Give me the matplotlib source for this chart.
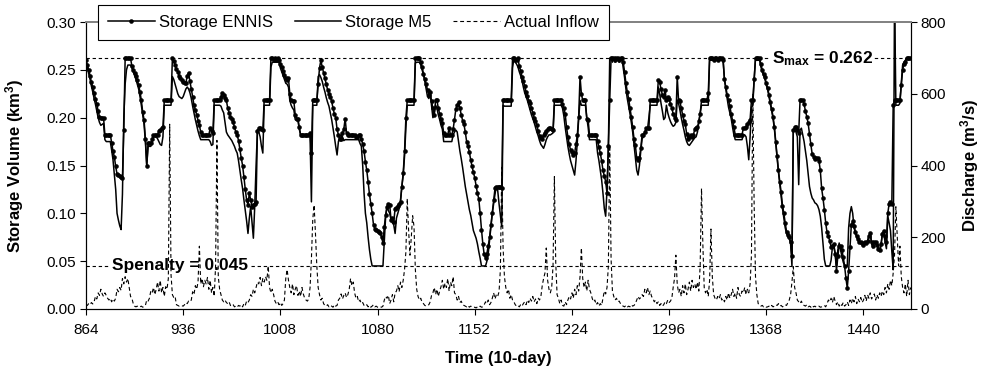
import numpy as np
import matplotlib
matplotlib.use('Agg')
import matplotlib.pyplot as plt
from matplotlib.lines import Line2D

plt.rcParams['font.family'] = ['Liberation Sans', 'DejaVu Sans']
plt.rcParams['mathtext.fontset'] = 'custom'
plt.rcParams['mathtext.rm'] = 'Liberation Sans'
plt.rcParams['mathtext.bf'] = 'Liberation Sans:bold'
plt.rcParams['mathtext.it'] = 'Liberation Sans:italic'

start_time = 864

storage_ennis = [
    .260, .255, .250, .244, .237, .232, .226, .220, .214, .207, .201, .200,  # 864
    .200, .200, .182, .182, .182, .182, .182, .174, .165, .159, .149, .141,  # 876
    .140, .139, .138, .137, .187, .262, .262, .262, .262, .262, .254, .250,  # 888
    .247, .244, .239, .234, .227, .218, .206, .198, .178, .150, .173, .173,  # 900
    .173, .178, .182, .182, .182, .182, .186, .187, .189, .190, .218, .218,  # 912
    .218, .218, .218, .218, .262, .259, .255, .251, .248, .244, .241, .239,  # 924
    .237, .236, .236, .244, .247, .238, .230, .222, .213, .208, .203, .197,  # 936
    .192, .185, .182, .182, .182, .182, .182, .182, .189, .186, .184, .218,  # 948
    .218, .218, .218, .218, .222, .226, .224, .221, .218, .210, .205, .201,  # 960
    .199, .195, .190, .185, .182, .176, .167, .158, .150, .138, .125, .114,  # 972
    .109, .121, .114, .107, .109, .110, .112, .186, .189, .189, .188, .187,  # 984
    .218, .218, .218, .218, .218, .262, .262, .260, .262, .260, .262, .260,  # 996
    .256, .253, .249, .245, .241, .239, .241, .225, .218, .217, .217, .203,  # 1008
    .199, .199, .190, .182, .182, .182, .182, .182, .182, .182, .184, .163,  # 1020
    .218, .218, .218, .218, .235, .252, .260, .253, .247, .241, .235, .229,  # 1032
    .225, .222, .217, .210, .204, .200, .188, .182, .178, .178, .184, .188,  # 1044
    .199, .184, .182, .182, .182, .182, .182, .182, .180, .180, .182, .182,  # 1056
    .178, .172, .165, .154, .145, .133, .120, .110, .100, .088, .084, .083,  # 1068
    .082, .081, .079, .075, .069, .086, .098, .107, .110, .109, .093, .095,  # 1080
    .091, .105, .106, .108, .110, .112, .128, .142, .165, .200, .218, .218,  # 1092
    .218, .218, .218, .218, .262, .262, .262, .262, .258, .253, .246, .240,  # 1104
    .235, .229, .224, .227, .217, .210, .203, .218, .218, .210, .204, .199,  # 1116
    .194, .184, .182, .182, .182, .189, .182, .182, .188, .198, .209, .213,  # 1128
    .216, .210, .203, .197, .193, .185, .175, .170, .164, .156, .149, .143,  # 1140
    .137, .129, .121, .115, .100, .083, .068, .057, .053, .058, .066, .075,  # 1152
    .088, .100, .114, .126, .128, .128, .128, .128, .126, .218, .218, .218,  # 1164
    .218, .218, .218, .218, .262, .262, .260, .260, .262, .254, .249, .243,  # 1176
    .238, .233, .227, .223, .217, .215, .210, .205, .200, .197, .192, .186,  # 1188
    .181, .179, .178, .182, .184, .186, .188, .189, .189, .188, .187, .218,  # 1200
    .218, .218, .218, .218, .218, .214, .210, .204, .190, .180, .172, .166,  # 1212
    .164, .161, .163, .172, .182, .201, .243, .225, .218, .218, .218, .199,  # 1224
    .198, .182, .182, .182, .182, .182, .182, .176, .169, .163, .155, .145,  # 1236
    .139, .133, .121, .170, .218, .262, .262, .262, .260, .262, .262, .260,  # 1248
    .262, .262, .258, .248, .236, .227, .220, .210, .201, .190, .178, .171,  # 1260
    .158, .156, .158, .168, .182, .182, .185, .189, .189, .189, .218, .218,  # 1272
    .218, .218, .218, .218, .239, .237, .230, .224, .222, .229, .218, .222,  # 1284
    .220, .214, .210, .204, .200, .198, .243, .218, .217, .210, .203, .197,  # 1296
    .193, .183, .178, .180, .182, .180, .182, .188, .189, .190, .196, .204,  # 1308
    .218, .218, .218, .218, .218, .226, .262, .262, .262, .260, .262, .262,  # 1320
    .260, .262, .262, .262, .260, .240, .232, .224, .218, .212, .204, .197,  # 1332
    .190, .182, .182, .182, .182, .182, .182, .189, .189, .190, .193, .195,  # 1344
    .198, .218, .218, .240, .262, .262, .262, .262, .256, .250, .246, .242,  # 1356
    .236, .231, .224, .216, .209, .201, .190, .175, .160, .145, .133, .122,  # 1368
    .108, .100, .090, .081, .077, .075, .070, .055, .187, .190, .190, .187,  # 1380
    .184, .218, .218, .218, .214, .207, .201, .194, .183, .172, .162, .159,  # 1392
    .157, .158, .158, .155, .145, .126, .116, .104, .090, .080, .076, .071,  # 1404
    .065, .066, .068, .058, .040, .055, .066, .066, .062, .054, .045, .032,  # 1416
    .022, .040, .065, .088, .092, .087, .081, .076, .073, .070, .070, .069,  # 1428
    .067, .070, .069, .071, .076, .079, .070, .066, .070, .070, .067, .063,  # 1440
    .062, .068, .078, .082, .076, .070, .100, .110, .112, .110, .213, .218,  # 1452
    .218, .218, .218, .218, .234, .250, .256, .258, .262, .262, .262, .262,  # 1464
]

storage_m5 = [
    .258, .252, .246, .240, .233, .227, .220, .214, .207, .200, .195, .192,  # 864
    .193, .194, .177, .175, .175, .175, .175, .166, .156, .141, .125, .100,  # 876
    .093, .087, .083, .120, .200, .235, .250, .255, .255, .255, .252, .248,  # 888
    .244, .240, .235, .230, .222, .213, .203, .193, .175, .150, .170, .170,  # 900
    .170, .175, .180, .180, .180, .178, .175, .172, .171, .180, .213, .213,  # 912
    .213, .213, .213, .213, .243, .240, .235, .230, .225, .222, .221, .220,  # 924
    .222, .226, .230, .232, .230, .226, .220, .212, .205, .198, .192, .186,  # 936
    .181, .177, .177, .177, .177, .177, .177, .177, .175, .171, .172, .213,  # 948
    .213, .213, .213, .213, .212, .208, .205, .195, .185, .182, .180, .178,  # 960
    .176, .173, .170, .166, .163, .155, .145, .135, .126, .114, .103, .092,  # 972
    .079, .095, .107, .090, .074, .107, .150, .187, .185, .180, .170, .163,  # 984
    .213, .213, .213, .213, .213, .253, .258, .258, .258, .258, .258, .258,  # 996
    .252, .248, .244, .240, .236, .235, .232, .218, .213, .210, .208, .198,  # 1008
    .197, .197, .188, .182, .182, .182, .182, .182, .182, .182, .180, .112,  # 1020
    .213, .213, .213, .213, .243, .245, .242, .238, .232, .227, .221, .216,  # 1032
    .212, .205, .198, .189, .180, .170, .161, .175, .180, .182, .180, .176,  # 1044
    .177, .177, .177, .177, .177, .177, .177, .177, .177, .177, .177, .173,  # 1056
    .170, .150, .121, .100, .090, .075, .062, .052, .045, .045, .045, .045,  # 1068
    .045, .045, .045, .045, .045, .070, .097, .107, .103, .100, .093, .090,  # 1080
    .088, .079, .095, .100, .105, .114, .128, .140, .160, .190, .213, .213,  # 1092
    .213, .213, .213, .213, .257, .258, .258, .258, .255, .250, .245, .238,  # 1104
    .230, .222, .220, .225, .212, .200, .205, .213, .210, .203, .198, .192,  # 1116
    .188, .175, .175, .175, .175, .175, .175, .175, .182, .185, .187, .185,  # 1128
    .175, .165, .157, .148, .138, .128, .120, .112, .104, .098, .090, .082,  # 1140
    .078, .074, .068, .060, .053, .045, .045, .045, .045, .050, .058, .072,  # 1152
    .085, .100, .110, .120, .128, .124, .110, .098, .086, .213, .212, .212,  # 1164
    .212, .212, .212, .212, .252, .262, .258, .256, .253, .248, .244, .239,  # 1176
    .232, .226, .222, .218, .213, .208, .203, .199, .195, .190, .185, .181,  # 1188
    .176, .172, .170, .168, .172, .177, .180, .182, .182, .183, .184, .213,  # 1200
    .213, .213, .213, .213, .213, .210, .202, .190, .180, .170, .162, .155,  # 1212
    .150, .145, .140, .155, .175, .199, .218, .213, .213, .213, .213, .200,  # 1224
    .190, .177, .177, .177, .177, .177, .177, .163, .155, .145, .135, .121,  # 1236
    .105, .097, .125, .170, .262, .262, .258, .262, .258, .262, .262, .258,  # 1248
    .262, .262, .252, .242, .230, .220, .212, .204, .195, .185, .172, .158,  # 1260
    .145, .140, .150, .165, .178, .180, .185, .187, .188, .200, .213, .213,  # 1272
    .213, .213, .213, .213, .232, .225, .215, .207, .198, .200, .213, .205,  # 1284
    .200, .196, .193, .191, .192, .195, .218, .215, .208, .200, .193, .187,  # 1296
    .180, .175, .172, .171, .173, .175, .177, .179, .180, .185, .195, .205,  # 1308
    .213, .213, .213, .213, .213, .213, .262, .260, .260, .260, .260, .260,  # 1320
    .260, .260, .260, .260, .260, .240, .230, .220, .211, .205, .199, .190,  # 1332
    .182, .177, .177, .177, .177, .177, .177, .182, .182, .180, .170, .156,  # 1344
    .180, .211, .213, .240, .262, .260, .260, .260, .253, .248, .244, .240,  # 1356
    .234, .229, .222, .214, .207, .199, .188, .173, .158, .143, .130, .118,  # 1368
    .105, .095, .085, .079, .076, .074, .068, .045, .187, .187, .185, .180,  # 1380
    .130, .187, .189, .182, .175, .165, .155, .142, .128, .121, .116, .114,  # 1392
    .111, .110, .108, .104, .097, .085, .068, .052, .045, .045, .045, .045,  # 1404
    .051, .065, .065, .058, .045, .062, .069, .062, .055, .049, .045, .045,  # 1416
    .045, .085, .100, .107, .100, .085, .079, .075, .072, .069, .070, .068,  # 1428
    .066, .070, .068, .071, .076, .079, .068, .064, .070, .068, .066, .063,  # 1440
    .060, .066, .080, .079, .070, .063, .097, .090, .082, .060, .041, .330,  # 1452
    .213, .213, .213, .215, .236, .255, .258, .260, .262, .262, .262, .262,  # 1464
]

actual_inflow = [
    12, 10, 15, 12, 18, 14, 20, 35, 28, 45, 38, 55,        # 864
    42, 35, 45, 38, 30, 25, 30, 20, 28, 22, 30, 55,        # 876
    48, 60, 52, 85, 70, 90, 75, 85, 60, 35, 30, 15,        # 888
    8, 6, 8, 5, 6, 8, 5, 7, 10, 25, 22, 30,                # 900
    50, 45, 60, 40, 55, 75, 50, 80, 45, 60, 35, 62,        # 912
    55, 85, 515, 95, 40, 32, 35, 12, 10, 8, 10, 9,         # 924
    8, 12, 18, 15, 22, 20, 25, 48, 40, 65, 55, 75,         # 936
    175, 70, 85, 62, 80, 70, 88, 55, 80, 45, 60, 35,       # 948
    120, 470, 90, 55, 40, 25, 20, 25, 18, 15, 20, 10,      # 960
    8, 12, 6, 8, 5, 10, 8, 12, 6, 15, 10, 22,              # 972
    18, 25, 40, 35, 55, 45, 60, 75, 70, 88, 65, 85,        # 984
    75, 90, 80, 120, 60, 45, 55, 40, 22, 15, 20, 12,       # 996
    18, 10, 15, 25, 85, 110, 80, 60, 45, 70, 40, 55,       # 1008
    65, 38, 50, 35, 60, 42, 30, 25, 22, 28, 60, 140,       # 1020
    250, 290, 210, 120, 60, 40, 25, 30, 15, 10, 8, 12,     # 1032
    6, 10, 8, 5, 12, 8, 10, 25, 30, 42, 28, 38,            # 1044
    45, 32, 40, 55, 85, 65, 75, 45, 30, 35, 20, 25,        # 1056
    15, 18, 10, 8, 12, 6, 10, 5, 8, 12, 6, 8,              # 1068
    5, 4, 6, 5, 8, 25, 35, 30, 38, 15, 25, 40,             # 1080
    20, 45, 50, 65, 48, 75, 60, 80, 110, 160, 308, 220,    # 1092
    150, 200, 260, 230, 110, 55, 35, 25, 30, 18, 15, 10,   # 1104
    8, 10, 12, 20, 38, 45, 60, 40, 55, 35, 50, 62,         # 1116
    80, 55, 72, 60, 85, 50, 75, 65, 90, 45, 40, 25,        # 1128
    35, 18, 22, 12, 10, 8, 6, 10, 5, 8, 6, 4,              # 1140
    5, 3, 6, 4, 8, 5, 6, 12, 20, 15, 25, 12,               # 1152
    18, 30, 45, 28, 40, 35, 48, 110, 395, 170, 90, 60,     # 1164
    45, 55, 30, 40, 25, 20, 12, 8, 10, 6, 12, 8,           # 1176
    15, 20, 12, 25, 18, 30, 22, 35, 20, 28, 15, 30,        # 1188
    25, 35, 65, 85, 100, 170, 80, 55, 45, 60, 120, 369,    # 1200
    130, 40, 30, 15, 25, 10, 8, 20, 12, 25, 35, 28,        # 1212
    45, 30, 55, 40, 65, 50, 90, 170, 85, 60, 75, 50,       # 1224
    80, 55, 45, 30, 20, 25, 12, 18, 8, 15, 10, 30,         # 1236
    50, 42, 60, 120, 457, 140, 50, 35, 25, 30, 20, 22,     # 1248
    15, 10, 8, 6, 10, 5, 8, 6, 12, 8, 10, 15,              # 1260
    25, 35, 28, 32, 40, 35, 55, 45, 60, 40, 50, 35,        # 1272
    30, 20, 25, 15, 20, 10, 15, 8, 12, 20, 15, 25,         # 1284
    18, 22, 30, 60, 85, 150, 70, 45, 55, 35, 65, 45,       # 1296
    70, 40, 55, 75, 50, 80, 60, 70, 55, 75, 50, 120,       # 1308
    336, 180, 60, 45, 55, 35, 80, 223, 90, 40, 30, 25,     # 1320
    35, 28, 40, 25, 30, 20, 35, 25, 45, 30, 40, 55,        # 1332
    35, 45, 30, 60, 40, 35, 50, 45, 60, 40, 55, 45,        # 1344
    70, 150, 600, 290, 90, 40, 15, 10, 8, 10, 6, 8,        # 1356
    5, 6, 8, 5, 10, 6, 8, 12, 10, 15, 8, 10,               # 1368
    6, 8, 12, 10, 18, 25, 40, 75, 118, 60, 45, 25,         # 1380
    20, 15, 22, 12, 10, 8, 12, 6, 8, 5, 10, 6,             # 1392
    8, 5, 6, 8, 5, 6, 8, 10, 6, 15, 25, 20,                # 1404
    30, 18, 35, 22, 12, 20, 8, 15, 10, 18, 8, 12,          # 1416
    20, 10, 25, 15, 30, 20, 35, 15, 28, 20, 32, 18,        # 1428
    25, 38, 22, 40, 30, 45, 28, 35, 42, 25, 40, 30,        # 1440
    45, 35, 50, 40, 60, 45, 70, 55, 80, 65, 100, 150,      # 1452
    285, 200, 120, 175, 90, 60, 45, 70, 35, 80, 40, 60,    # 1464
]

x_ticks = [864, 936, 1008, 1080, 1152, 1224, 1296, 1368, 1440]
left_ticks = [0.00, 0.05, 0.10, 0.15, 0.20, 0.25, 0.30]
right_ticks = [0, 200, 400, 600, 800]
s_max = 0.262
s_penalty = 0.045

t_e = np.arange(start_time, start_time + len(storage_ennis))
t_m = np.arange(start_time, start_time + len(storage_m5))
t_q = np.arange(start_time, start_time + len(actual_inflow))

W, H = 985, 380
fig = plt.figure(figsize=(W / 100, H / 100), dpi=100)
L, R, T, B = 86, 911, 22, 309
ax = fig.add_axes([L / W, 1 - B / H, (R - L) / W, (B - T) / H])
ax2 = ax.twinx()

dash = (0, (3.5, 2.5))

# Inflow on right axis
ax2.plot(t_q, actual_inflow, color='black', lw=0.8, ls=dash)
ax2.set_ylim(0, 800)
ax2.set_yticks(right_ticks)

# Storage on left axis
ax.plot(t_m, storage_m5, color='black', lw=1.1)
ax.plot(t_e, storage_ennis, color='black', lw=1.1, marker='o', ms=2.8,
        mew=0.4, mfc='black')
ax.axhline(s_max, color='black', lw=0.8, ls=(0, (3, 2.5)))
ax.axhline(s_penalty, color='black', lw=0.8, ls=(0, (3, 2.5)))

ax.set_xlim(864, 1475.2)
ax.set_ylim(0, 0.30)
ax.set_xticks(x_ticks)
ax.set_yticks(left_ticks)
ax.set_yticklabels([f'{v:.2f}' for v in left_ticks])

for a in (ax, ax2):
    a.tick_params(direction='out', length=4, width=0.8, labelsize=11, pad=3)
    for sp in a.spines.values():
        sp.set_linewidth(0.8)
        sp.set_color('black')
ax.tick_params(axis='x', pad=6)
ax2.spines['top'].set_color('#808080')
ax2.spines['top'].set_linewidth(1.4)
ax.spines['top'].set_visible(False)

ax.set_xlabel('Time (10-day)', fontsize=12, fontweight='bold')
ax.xaxis.set_label_coords(0.5, -0.145)
ax.set_ylabel(r'Storage Volume (km$^\mathbf{3}$)', fontsize=12, fontweight='bold')
ax.yaxis.set_label_coords(-0.073, 0.5)
ax2.set_ylabel(r'Discharge (m$^\mathbf{3}$/s)', fontsize=12, fontweight='bold',
               rotation=90)
ax2.yaxis.set_label_coords(1.057, 0.5)

ax.text(1447, s_max, r'$\mathbf{S_{max}}$ = 0.262', fontsize=12.5, fontweight='bold',
        ha='right', va='center', zorder=5,
        bbox=dict(facecolor='white', edgecolor='none', pad=1.0))
ax.text(883, s_penalty, 'Spenalty = 0.045', fontsize=12.5, fontweight='bold',
        ha='left', va='center', zorder=5,
        bbox=dict(facecolor='white', edgecolor='none', pad=1.0))

handles = [
    Line2D([], [], color='black', lw=1.1, marker='o', ms=2.8, mew=0.4),
    Line2D([], [], color='black', lw=1.1),
    Line2D([], [], color='black', lw=0.8, ls=dash),
]
labels = ['Storage ENNIS', 'Storage M5', 'Actual Inflow']
leg = ax2.legend(handles, labels, ncol=3, loc='upper left',
                 bbox_to_anchor=((98 - L) / (R - L), (B - 5) / (B - T)),
                 frameon=True, fancybox=False, fontsize=12, handlelength=2.8,
                 handletextpad=0.25, columnspacing=1.3, borderpad=0.6,
                 borderaxespad=0)
leg.get_frame().set_edgecolor('black')
leg.get_frame().set_linewidth(0.8)
leg.get_frame().set_alpha(1)
leg.set_zorder(10)

fig.savefig('out.png', dpi=100)
